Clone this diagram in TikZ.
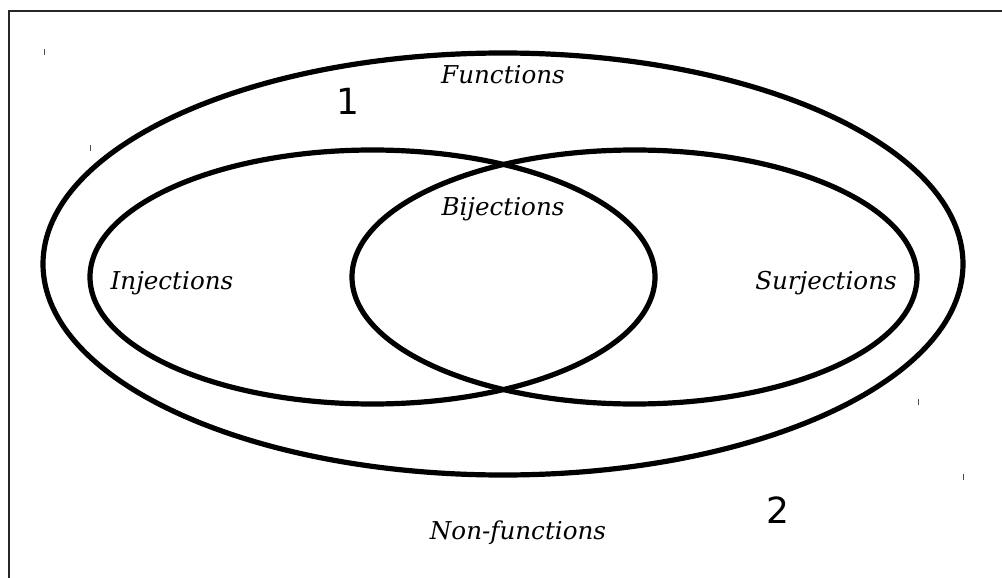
\documentclass[tikz,border=0pt]{standalone}
\usepackage{fontspec}
\setmainfont{DejaVu Serif}
\newfontfamily\numfont{DejaVu Sans}
\tikzset{
    setline/.style={line width=5.2pt, black},
    setlabel/.style={font=\fontsize{24.6}{26}\selectfont\itshape, inner sep=0pt},
    regionnum/.style={font=\numfont\fontsize{36}{38}\selectfont, inner sep=0pt},
    tick/.style={line width=0.8pt, black!70},
}
\begin{document}
\begin{tikzpicture}[x=1pt, y=-1pt]
    \useasboundingbox (0,0) rectangle (1002,578);

    % frame (left and top edges only)
    \draw[line width=1.6pt, black!85] (9,578) -- (9,11) -- (1002,11);

    % Functions
    \draw[setline] (503,264) ellipse [x radius=460, y radius=211];
    \node[setlabel] (functions) at (503,75) {Functions};
    \node[regionnum] (one) at (348,101) {1};

    % Injections and Surjections
    \draw[setline] (372.5,277) ellipse [x radius=282.5, y radius=127];
    \draw[setline] (634.5,277) ellipse [x radius=282.5, y radius=127];
    \node[setlabel] (injections) at (172,283) {Injections};
    \node[setlabel] (surjections) at (826,283) {Surjections};
    \node[setlabel] (bijections) at (503,209) {Bijections};

    % outside
    \node[setlabel] (nonfunctions) at (518,533) {Non-functions};
    \node[regionnum] (two) at (778,510) {2};

    % small marks
    \foreach \x/\y in {44/52, 90/148, 918/402, 963/477} {
        \draw[tick] (\x,\y-3) -- (\x,\y+3);
    }

\end{tikzpicture}
\end{document}
